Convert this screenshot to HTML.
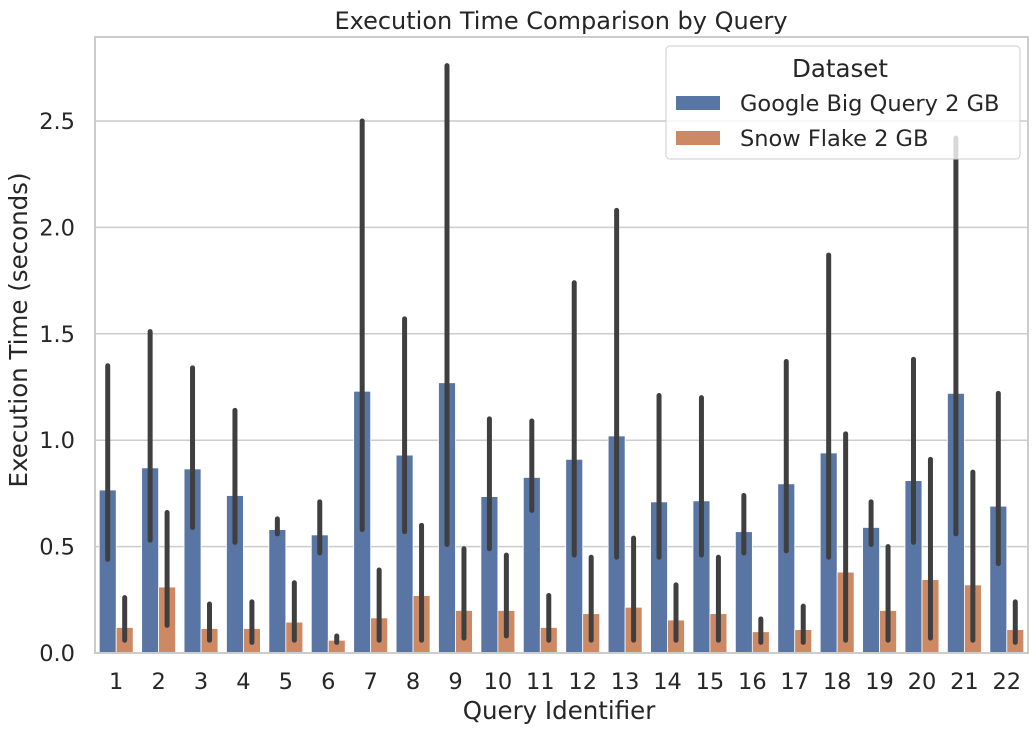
<!DOCTYPE html>
<html><head><meta charset="utf-8"><style>
body{margin:0;background:#fff;}
svg{display:block;font-family:"DejaVu Sans","Liberation Sans",sans-serif;}
</style></head><body>
<svg id="chart" width="1033" height="733">
<g id="grid"></g>
<g id="bars"></g>
<g id="errs"></g>
<rect x="95" y="37" width="933" height="616" fill="none" stroke="#cccccc" stroke-width="2"/>
<g id="yticks"></g>
<g id="xticks"></g>
<text x="561" y="29" text-anchor="middle" font-size="24" fill="#262626">Execution Time Comparison by Query</text>
<text x="559" y="719" text-anchor="middle" font-size="24.5" fill="#262626">Query Identifier</text>
<text transform="translate(27,330) rotate(-90)" text-anchor="middle" font-size="24.5" fill="#262626">Execution Time (seconds)</text>
<g>
<rect x="666" y="46" width="354" height="113" rx="4" fill="#fff" fill-opacity="0.8" stroke="#cccccc"/>
<text x="840" y="77" text-anchor="middle" font-size="24.5" fill="#262626">Dataset</text>
<g><rect x="676" y="96" width="44" height="14" fill="#5975a4"/><text x="740" y="111" font-size="22.5" fill="#262626">Google Big Query 2 GB</text></g>
<g><rect x="676" y="131" width="44" height="14" fill="#cc8963"/><text x="740" y="146" font-size="22.5" fill="#262626">Snow Flake 2 GB</text></g>
</g>
</svg>
<script>
const categories=["1","2","3","4","5","6","7","8","9","10","11","12","13","14","15","16","17","18","19","20","21","22"];
const googleVals=[0.766,0.87,0.865,0.74,0.58,0.555,1.23,0.93,1.27,0.735,0.825,0.91,1.02,0.71,0.715,0.57,0.795,0.94,0.59,0.81,1.22,0.69];
const googleLo=[0.44,0.53,0.59,0.52,0.56,0.47,0.58,0.57,0.51,0.49,0.67,0.46,0.45,0.45,0.46,0.47,0.48,0.45,0.51,0.52,0.56,0.42];
const googleHi=[1.35,1.51,1.34,1.14,0.63,0.71,2.5,1.57,2.76,1.1,1.09,1.74,2.08,1.21,1.2,0.74,1.37,1.87,0.71,1.38,2.42,1.22];
const snowVals=[0.12,0.31,0.115,0.115,0.145,0.06,0.165,0.27,0.2,0.2,0.12,0.185,0.215,0.155,0.185,0.1,0.11,0.38,0.2,0.345,0.32,0.11];
const snowLo=[0.06,0.13,0.06,0.05,0.06,0.05,0.06,0.06,0.07,0.08,0.06,0.06,0.06,0.06,0.06,0.05,0.05,0.06,0.06,0.07,0.06,0.05];
const snowHi=[0.26,0.66,0.23,0.24,0.33,0.08,0.39,0.6,0.49,0.46,0.27,0.45,0.54,0.32,0.45,0.16,0.22,1.03,0.5,0.91,0.85,0.24];
const yTicks=[0,0.5,1.0,1.5,2.0,2.5];
const NS="http://www.w3.org/2000/svg";
const X0=95,X1=1028,Y0=653,PX=212.8;
const band=(X1-X0)/categories.length;
const y=v=>Y0-v*PX;
const xc=i=>X0+band*(i+0.5);
function mk(tag,attrs,parent){const e=document.createElementNS(NS,tag);for(const k in attrs)e.setAttribute(k,attrs[k]);parent.appendChild(e);return e;}
const grid=document.getElementById('grid'),yt=document.getElementById('yticks'),xt=document.getElementById('xticks');
const bars=document.getElementById('bars'),errs=document.getElementById('errs');
yTicks.forEach(t=>{
  const l=mk('line',{x1:X0,x2:X1,y1:y(t),y2:y(t),stroke:'#cccccc','stroke-width':1.5},grid);
  
  
  const tx=mk('text',{x:75,y:y(t)+8,'text-anchor':'end','font-size':22.5,fill:'#262626'},yt);
  tx.textContent=t.toFixed(1);
  
  
});
const bw=band*0.4;
categories.forEach((c,i)=>{
  const cx=xc(i);
  const tx=mk('text',{x:cx,y:689,'text-anchor':'middle','font-size':22.5,fill:'#262626'},xt);
  tx.textContent=c;
  
  
  [[googleVals,googleLo,googleHi,'#5975a4',cx-bw,'google'],[snowVals,snowLo,snowHi,'#cc8963',cx,'snowflake']].forEach(s=>{
    const v=s[0][i];
    const r=mk('rect',{x:s[4],y:y(v),width:bw,height:Y0-y(v),fill:s[3],stroke:'#fff','stroke-width':0.8},bars);
    
    
    const ex=s[4]+bw/2;
    const e=mk('line',{x1:ex,x2:ex,y1:y(s[1][i]),y2:y(s[2][i]),stroke:'#3f3f3f','stroke-width':5,'stroke-linecap':'round'},errs);
    
    
  });
});
</script>
</body></html>
